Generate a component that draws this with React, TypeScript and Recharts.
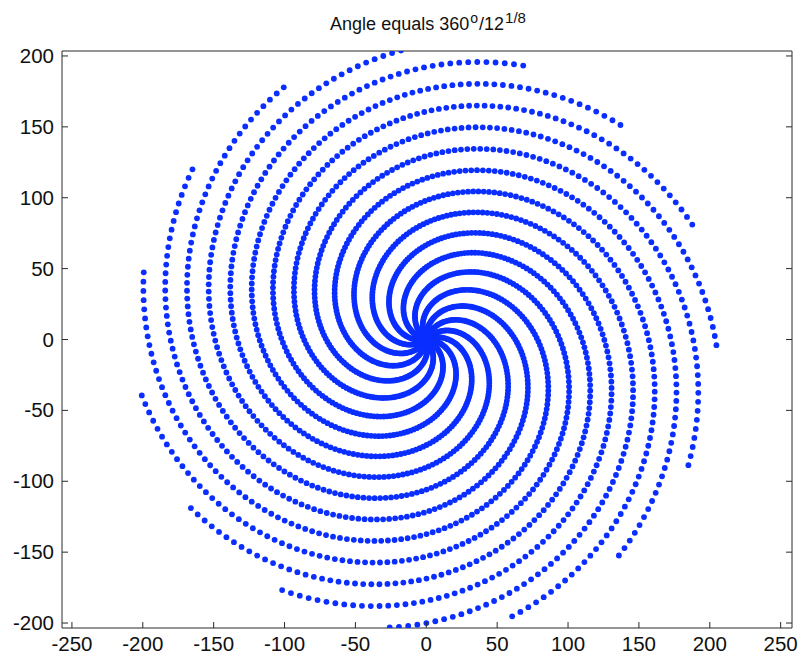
import React from "react";
import { ScatterChart, Scatter, XAxis, YAxis } from "recharts";

// Chart definition read from the title: angle step = 360° / 12^(1/8)
const ANGLE_BASE = 12;
const ANGLE_ROOT = 8;
const POINT_COUNT = 2592;
const RADIUS_STEP = 0.0791;

const X_TICKS = [-250, -200, -150, -100, -50, 0, 50, 100, 150, 200, 250];
const Y_TICKS = [-200, -150, -100, -50, 0, 50, 100, 150, 200];
const X_DOMAIN = [-257, 258];
const Y_DOMAIN = [-203.5, 203.5];

const indices = Array.from({ length: POINT_COUNT }, (_, i) => i + 1);
const angleStep = (2 * Math.PI) / Math.pow(ANGLE_BASE, 1 / ANGLE_ROOT);
const points = indices.map((n) => ({
  x: n * RADIUS_STEP * Math.cos(n * angleStep),
  y: n * RADIUS_STEP * Math.sin(n * angleStep),
}));

const AXIS = "#2a2a2a";
const FONT = "'Liberation Sans', Arial, sans-serif";
const DOT = "#0a2eff";
const TICK_FONT = 20.5;

const BottomTick = (p: any) => (
  <g>
    <line x1={p.x} y1={p.y} x2={p.x} y2={p.y - 6} stroke={AXIS} />
    <text x={p.x} y={p.y + 23} textAnchor="middle" fontSize={TICK_FONT} fontFamily={FONT} fill="#111">
      {p.payload.value}
    </text>
  </g>
);
const TopTick = (p: any) => (
  <line x1={p.x} y1={p.y} x2={p.x} y2={p.y + 6} stroke={AXIS} />
);
const LeftTick = (p: any) => (
  <g>
    <line x1={p.x} y1={p.y} x2={p.x + 6} y2={p.y} stroke={AXIS} />
    <text x={p.x - 8} y={p.y + 7} textAnchor="end" fontSize={TICK_FONT} fontFamily={FONT} fill="#111">
      {p.payload.value}
    </text>
  </g>
);
const RightTick = (p: any) => (
  <line x1={p.x} y1={p.y} x2={p.x - 6} y2={p.y} stroke={AXIS} />
);

const Dot = (p: any) => <circle cx={p.cx} cy={p.cy} r={2.9} fill={DOT} />;

export default function App() {
  return (
    <div style={{ position: "absolute", left: 0, top: 0, width: 802, height: 663, background: "#fff" }}>
      <div
        style={{
          position: "absolute",
          left: 0,
          width: 856,
          top: 9,
          textAlign: "center",
          fontFamily: FONT,
          fontSize: 18,
          color: "#111",
          whiteSpace: "nowrap",
        }}
      >
        Angle equals 360
        <sup style={{ fontSize: 14, verticalAlign: "0.45em", marginLeft: 1, marginRight: 1 }}>o</sup>
        /12
        <sup style={{ fontSize: 15, verticalAlign: "0.45em", marginLeft: 1 }}>1/8</sup>
      </div>
      <ScatterChart width={802} height={663} margin={{ top: 50, right: 9, bottom: 0, left: 0 }}>
        <XAxis
          xAxisId="b"
          dataKey="x"
          type="number"
          domain={X_DOMAIN}
          ticks={X_TICKS}
          allowDataOverflow
          height={35}
          tickSize={0}
          tickMargin={0}
          tickLine={false}
          tick={<BottomTick />}
          axisLine={{ stroke: AXIS }}
          interval={0}
        />
        <XAxis
          xAxisId="t"
          orientation="top"
          type="number"
          domain={X_DOMAIN}
          ticks={X_TICKS}
          allowDataOverflow
          height={1}
          tickSize={0}
          tickMargin={0}
          tickLine={false}
          tick={<TopTick />}
          axisLine={{ stroke: AXIS }}
          interval={0}
        />
        <YAxis
          yAxisId="l"
          dataKey="y"
          type="number"
          domain={Y_DOMAIN}
          ticks={Y_TICKS}
          allowDataOverflow
          width={62}
          tickSize={0}
          tickMargin={0}
          tickLine={false}
          tick={<LeftTick />}
          axisLine={{ stroke: AXIS }}
          interval={0}
        />
        <YAxis
          yAxisId="r"
          orientation="right"
          type="number"
          domain={Y_DOMAIN}
          ticks={Y_TICKS}
          allowDataOverflow
          width={1}
          tickSize={0}
          tickMargin={0}
          tickLine={false}
          tick={<RightTick />}
          axisLine={{ stroke: AXIS }}
          interval={0}
        />
        <Scatter
          xAxisId="b"
          yAxisId="l"
          data={points}
          fill={DOT}
          shape={<Dot />}
          isAnimationActive={false}
        />
      </ScatterChart>
    </div>
  );
}
